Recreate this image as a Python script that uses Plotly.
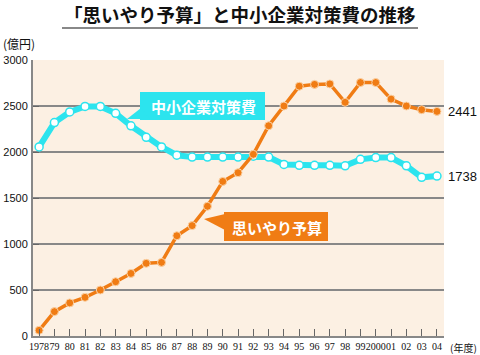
import plotly.graph_objects as go

years = list(range(1978, 2005))
year_labels = ["1978", "79", "80", "81", "82", "83", "84", "85", "86", "87", "88", "89", "90", "91",
               "92", "93", "94", "95", "96", "97", "98", "99", "2000", "01", "02", "03", "04"]
omoiyari = [62, 265, 360, 420, 500, 590, 680, 790, 800, 1090, 1200, 1410, 1680, 1775, 1975,
            2285, 2500, 2715, 2735, 2740, 2540, 2755, 2755, 2575, 2500, 2460, 2441]
chusho = [2055, 2320, 2435, 2495, 2495, 2420, 2285, 2160, 2055, 1965, 1945, 1945, 1945, 1945,
          1955, 1945, 1865, 1855, 1855, 1855, 1850, 1920, 1940, 1940, 1850, 1725, 1738]
y_ticks = [0, 500, 1000, 1500, 2000, 2500, 3000]

W, H = 480, 355
L, R, T, B = 33, 444, 60, 336

def px(x):
    return (x - L) / (R - L)

def py(y):
    return (B - y) / (B - T)

ORANGE = "#f07c14"
CYAN = "#2ce4ee"
JP = "Noto Sans CJK JP"

fig = go.Figure()
fig.add_trace(go.Scatter(x=years, y=chusho, mode="lines+markers",
                         line=dict(color=CYAN, width=6),
                         marker=dict(size=8, color="white", line=dict(color=CYAN, width=1.5)),
                         hoverinfo="skip"))
fig.add_trace(go.Scatter(x=years, y=omoiyari, mode="lines+markers",
                         line=dict(color=ORANGE, width=3.5),
                         marker=dict(size=8, color=ORANGE, line=dict(color="#fbd2a6", width=1)),
                         hoverinfo="skip"))

shapes = []
shapes.append(dict(type="line", xref="paper", yref="y", x0=0, x1=1, y0=2500, y1=2500,
                   line=dict(color="#222", width=1), layer="below"))
shapes.append(dict(type="line", xref="paper", yref="paper", x0=px(62), x1=px(418), y0=py(28), y1=py(28),
                   line=dict(color="#888", width=2)))
shapes.append(dict(type="rect", xref="paper", yref="paper", x0=px(140), x1=px(265), y0=py(120), y1=py(92),
                   fillcolor=CYAN, line=dict(width=0)))
shapes.append(dict(type="path", xref="paper", yref="paper",
                   path=f"M {px(141)},{py(108)} L {px(127)},{py(119)} L {px(150)},{py(119)} Z",
                   fillcolor=CYAN, line=dict(width=0)))
shapes.append(dict(type="rect", xref="paper", yref="paper", x0=px(224), x1=px(328), y0=py(241), y1=py(212),
                   fillcolor=ORANGE, line=dict(width=0)))
shapes.append(dict(type="path", xref="paper", yref="paper",
                   path=f"M {px(225)},{py(214)} L {px(204)},{py(219)} L {px(225)},{py(230)} Z",
                   fillcolor=ORANGE, line=dict(width=0)))

annotations = [
    dict(text="<b>「思いやり予算」と中小企業対策費の推移</b>", xref="paper", yref="paper",
         x=px(240), y=py(14), showarrow=False, font=dict(family=JP, size=18.5, color="#111"),
         xanchor="center", yanchor="middle"),
    dict(text="(億円)", xref="paper", yref="paper", x=px(1), y=py(44), showarrow=False,
         font=dict(family=JP, size=12, color="#111"), xanchor="left", yanchor="middle"),
    dict(text="(年度)", xref="paper", yref="paper", x=px(479), y=py(347), showarrow=False,
         font=dict(family=JP, size=10, color="#111"), xanchor="right", yanchor="middle"),
    dict(text="<b>中小企業対策費</b>", xref="paper", yref="paper", x=px(203), y=py(106), showarrow=False,
         font=dict(family=JP, size=15, color="white"), xanchor="center", yanchor="middle"),
    dict(text="<b>思いやり予算</b>", xref="paper", yref="paper", x=px(277), y=py(227), showarrow=False,
         font=dict(family=JP, size=15, color="white"), xanchor="center", yanchor="middle"),
    dict(text=f"{omoiyari[-1]}", xref="paper", yref="y", x=px(446), y=omoiyari[-1], showarrow=False,
         font=dict(family="Liberation Sans", size=13, color="#111"), xanchor="left", yanchor="middle"),
    dict(text=f"{chusho[-1]}", xref="paper", yref="y", x=px(446), y=chusho[-1], showarrow=False,
         font=dict(family="Liberation Sans", size=13, color="#111"), xanchor="left", yanchor="middle"),
]

fig.update_layout(
    width=W, height=H,
    margin=dict(l=L, r=W - R, t=T, b=H - B),
    paper_bgcolor="white", plot_bgcolor="#fcf0e3",
    showlegend=False,
    shapes=shapes, annotations=annotations,
    xaxis=dict(range=[1977.6, 2004.46], tickmode="array", tickvals=years, ticktext=year_labels,
               tickangle=0, automargin=False,
               ticks="inside", ticklen=7, tickcolor="#666", tickwidth=1,
               showgrid=False, zeroline=False, showline=True, linecolor="#888", linewidth=2,
               tickfont=dict(family="Liberation Serif", size=10, color="#111")),
    yaxis=dict(range=[0, 3000], tickmode="array", tickvals=y_ticks, automargin=False,
               ticks="inside", ticklen=6, tickcolor="#666", ticklabelstandoff=1,
               showgrid=True, gridcolor="#888", gridwidth=1.5, zeroline=False,
               showline=True, linecolor="#888", linewidth=2,
               tickfont=dict(family="Liberation Sans", size=11, color="#111")),
)

fig.write_html("out.html", config={"displayModeBar": False},
               post_script="document.body.style.margin='0';document.body.style.overflow='hidden';")
